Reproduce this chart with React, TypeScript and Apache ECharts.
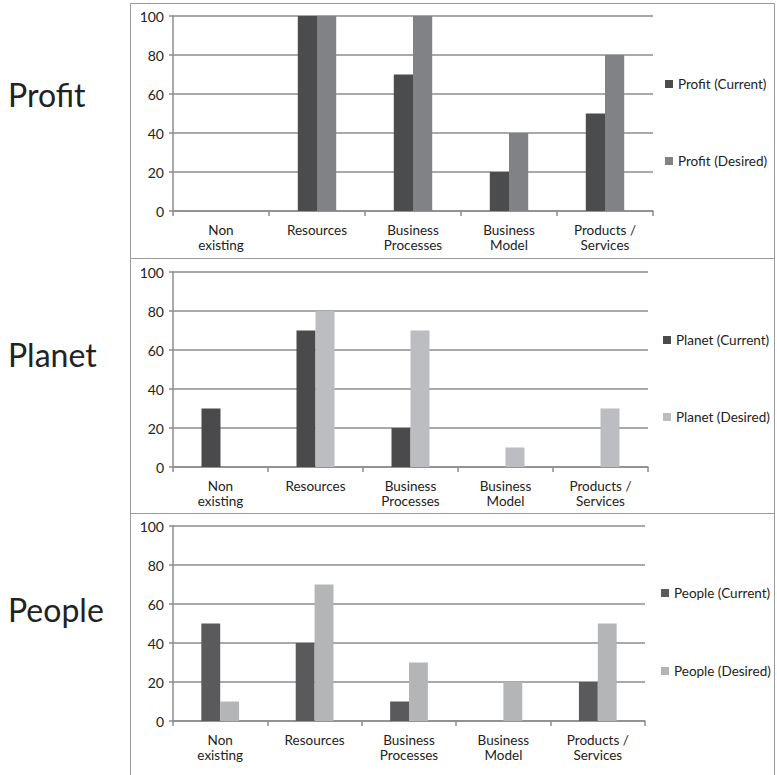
import React, { useEffect, useRef } from "react";
import * as echarts from "echarts";

const categories = ["Non\nexisting", "Resources", "Business\nProcesses", "Business\nModel", "Products /\nServices"];
const panelTitles = ["Profit", "Planet", "People"];
const profitCurrent = [0, 100, 70, 20, 50];
const profitDesired = [0, 100, 100, 40, 80];
const planetCurrent = [30, 70, 20, 0, 0];
const planetDesired = [0, 80, 70, 10, 30];
const peopleCurrent = [50, 40, 10, 0, 20];
const peopleDesired = [10, 70, 30, 20, 50];
const seriesNames = [
  ["Profit (Current)", "Profit (Desired)"],
  ["Planet (Current)", "Planet (Desired)"],
  ["People (Current)", "People (Desired)"],
];
const yTicks = [0, 20, 40, 60, 80, 100];

const FONT = "Lato, 'Open Sans', sans-serif";

export default function App() {
  const ref = useRef<HTMLDivElement>(null);
  useEffect(() => {
    if (!ref.current) return;
    const chart = echarts.init(ref.current, null, { renderer: "svg" });

    const grids = [
      { left: 173, top: 16, width: 480, height: 195 },
      { left: 173, top: 272, width: 475, height: 195 },
      { left: 173, top: 526, width: 472, height: 195 },
    ];
    const colors = [
      ["#4b4c4e", "#818285"],
      ["#4a4a4c", "#bcbdc0"],
      ["#5a5a5c", "#b4b5b7"],
    ];
    const data = [
      [profitCurrent, profitDesired],
      [planetCurrent, planetDesired],
      [peopleCurrent, peopleDesired],
    ];
    const legendY = [
      [83, 160],
      [339, 416],
      [592, 670],
    ];
    const legendX = [660, 658, 656];
    const titleY = [97, 357, 612];

    const xAxis: any[] = [];
    const yAxis: any[] = [];
    const series: any[] = [];
    const legend: any[] = [];
    grids.forEach((g, i) => {
      xAxis.push({
        type: "category",
        gridIndex: i,
        data: categories,
        axisLine: { show: true, lineStyle: { color: "#8c8c8c", width: 1.5 } },
        axisTick: { show: true, length: 5, alignWithLabel: false, lineStyle: { color: "#8c8c8c", width: 1.5 } },
        axisLabel: { interval: 0, fontSize: 13.5, lineHeight: 14.5, color: "#222", fontFamily: FONT, margin: 12 },
      });
      yAxis.push({
        type: "value",
        gridIndex: i,
        min: yTicks[0],
        max: yTicks[yTicks.length - 1],
        interval: 20,
        axisLine: { show: true, lineStyle: { color: "#8c8c8c", width: 1.5 } },
        axisTick: { show: true, length: 4, lineStyle: { color: "#8c8c8c", width: 1.5 } },
        splitLine: { show: true, lineStyle: { color: "#8c8c8c", width: 1.5 } },
        axisLabel: { fontSize: 14, color: "#222", fontFamily: FONT, margin: 9 },
      });
      [0, 1].forEach((k) => {
        series.push({
          type: "bar",
          name: seriesNames[i][k],
          xAxisIndex: i,
          yAxisIndex: i,
          data: data[i][k],
          barWidth: "20%",
          barGap: "0%",
          itemStyle: { color: colors[i][k] },
        });
        legend.push({
          data: [seriesNames[i][k]],
          left: legendX[i],
          top: legendY[i][k] - 11,
          icon: "rect",
          itemWidth: 8,
          itemHeight: 8,
          itemGap: 0,
          selectedMode: false,
          textStyle: { fontSize: 13.5, color: "#222", fontFamily: FONT },
        });
      });
    });

    const graphic: any[] = [
      { type: "rect", shape: { x: 130.5, y: 3.5, width: 644, height: 255 }, style: { fill: "none", stroke: "#9a9a9a", lineWidth: 1 }, z: -1 },
      { type: "rect", shape: { x: 130.5, y: 258.5, width: 644, height: 255 }, style: { fill: "none", stroke: "#9a9a9a", lineWidth: 1 }, z: -1 },
      { type: "rect", shape: { x: 130.5, y: 513.5, width: 644, height: 275 }, style: { fill: "none", stroke: "#9a9a9a", lineWidth: 1 }, z: -1 },
    ];
    panelTitles.forEach((t, i) => {
      graphic.push({
        type: "text",
        left: 8,
        top: titleY[i] - 19,
        style: { text: t, fontSize: 32, fill: "#222", fontFamily: FONT },
      });
    });

    chart.setOption({
      animation: false,
      backgroundColor: "#fff",
      grid: grids,
      xAxis,
      yAxis,
      series,
      legend,
      graphic,
    });
    return () => chart.dispose();
  }, []);
  return (
    <div
      ref={ref}
      style={{ position: "absolute", left: 0, top: 0, width: 777, height: 775 }}
    />
  );
}
